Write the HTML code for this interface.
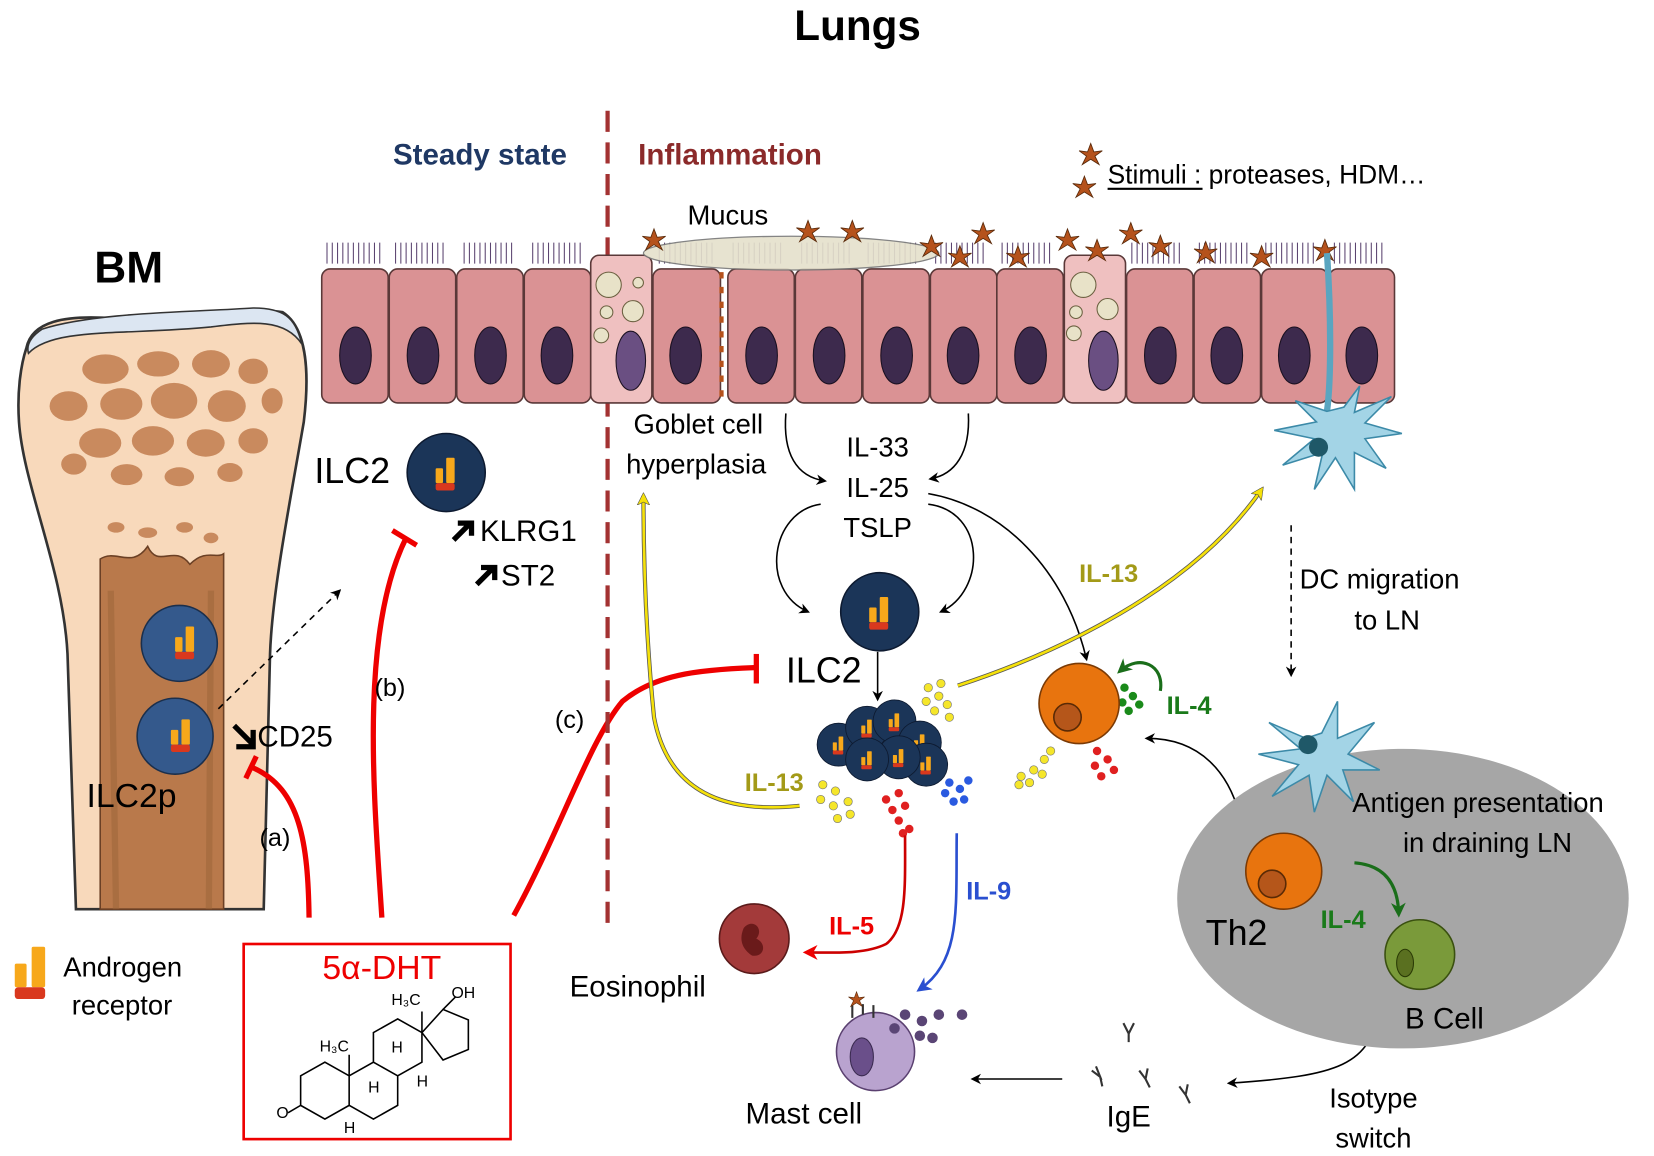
<!DOCTYPE html>
<html><head><meta charset="utf-8"><style>
html,body{margin:0;padding:0;background:#fff;}
svg{display:block;}
text{font-family:"Liberation Sans",sans-serif;}
</style></head><body>
<svg width="1654" height="1156" viewBox="0 0 1568 1096" preserveAspectRatio="none" xmlns="http://www.w3.org/2000/svg">
<defs>
<marker id="ab" markerWidth="10" markerHeight="10" refX="8" refY="5" orient="auto" markerUnits="userSpaceOnUse"><path d="M0,0 L10,5 L0,10 L3,5z" fill="#000"/></marker>
<marker id="ay" markerWidth="12" markerHeight="12" refX="9" refY="6" orient="auto" markerUnits="userSpaceOnUse"><path d="M0,0 L12,6 L0,12 L3,6z" fill="#f5e10a" stroke="#444" stroke-width="0.5"/></marker>
<marker id="ar" markerWidth="14" markerHeight="14" refX="10" refY="7" orient="auto" markerUnits="userSpaceOnUse"><path d="M0,0 L14,7 L0,14 L4,7z" fill="#e00"/></marker>
<marker id="abl" markerWidth="14" markerHeight="14" refX="10" refY="7" orient="auto" markerUnits="userSpaceOnUse"><path d="M0,0 L14,7 L0,14 L4,7z" fill="#2a4fd0"/></marker>
<marker id="ag" markerWidth="14" markerHeight="14" refX="10" refY="7" orient="auto" markerUnits="userSpaceOnUse"><path d="M0,0 L14,7 L0,14 L4,7z" fill="#1a6e1a"/></marker>
<g id="ar_icon"><rect x="-10" y="-4" width="7" height="14" rx="1" fill="#f7a81b"/><rect x="0" y="-14" width="8" height="24" rx="1" fill="#f7a81b"/><rect x="-10" y="10" width="18" height="7" rx="2" fill="#d9381e"/></g>
<g id="cell"><circle r="37" fill="#1b3558" stroke="#0d1a30" stroke-width="1.5"/><use href="#ar_icon"/></g>
<g id="star"><path d="M0,-11 L3,-3 L11,-4 L4,1 L8,9 L0,4 L-8,9 L-4,1 L-11,-4 L-3,-3z" fill="#b5521c" stroke="#5a2a0a" stroke-width="0.8"/></g>
</defs>

<text x="813" y="38" font-size="40" font-weight="bold" text-anchor="middle">Lungs</text>
<text x="122" y="268" font-size="42" font-weight="bold" text-anchor="middle">BM</text>
<text x="455" y="156" font-size="28" font-weight="bold" fill="#1f3864" text-anchor="middle">Steady state</text>
<text x="605" y="156" font-size="28" font-weight="bold" fill="#8b2a2a">Inflammation</text>
<use href="#star" x="1034" y="147"/><use href="#star" x="1028" y="178"/>
<text x="1050" y="174" font-size="25">Stimuli : proteases, HDM…</text>
<line x1="1050" y1="179" x2="1140" y2="179" stroke="#000" stroke-width="2"/>

<!-- bone -->
<path d="M25,330 C30,305 60,298 110,302 C170,306 230,290 268,296 C290,310 294,350 288,400 C276,470 258,560 256,620 L250,862 L72,862 L64,620 C60,540 22,460 18,400 C16,370 20,345 25,330z" fill="#f8d9bb" stroke="#333" stroke-width="2.5"/>
<path d="M27,335 C50,310 120,318 200,310 C240,305 270,302 286,326 C280,300 268,292 240,292 C180,296 90,296 40,312 C28,320 25,328 27,335z" fill="#dce6f2" stroke="#333" stroke-width="1.5"/>
<g fill="#c98a5e">
<ellipse cx="100" cy="350" rx="22" ry="14"/><ellipse cx="150" cy="345" rx="20" ry="12"/><ellipse cx="200" cy="345" rx="18" ry="13"/><ellipse cx="240" cy="352" rx="14" ry="12"/>
<ellipse cx="65" cy="385" rx="18" ry="14"/><ellipse cx="115" cy="383" rx="20" ry="15"/><ellipse cx="165" cy="380" rx="22" ry="17"/><ellipse cx="215" cy="385" rx="18" ry="15"/><ellipse cx="258" cy="380" rx="10" ry="12"/>
<ellipse cx="95" cy="420" rx="20" ry="14"/><ellipse cx="145" cy="418" rx="20" ry="14"/><ellipse cx="195" cy="420" rx="18" ry="13"/><ellipse cx="240" cy="418" rx="14" ry="12"/>
<ellipse cx="70" cy="440" rx="12" ry="10"/><ellipse cx="120" cy="450" rx="15" ry="10"/><ellipse cx="170" cy="452" rx="14" ry="9"/><ellipse cx="218" cy="448" rx="12" ry="9"/>
<ellipse cx="110" cy="500" rx="8" ry="5"/><ellipse cx="140" cy="505" rx="9" ry="5"/><ellipse cx="175" cy="500" rx="8" ry="5"/><ellipse cx="200" cy="510" rx="7" ry="5"/>
</g>
<path d="M95,530 C110,520 125,540 140,518 C150,540 165,515 180,535 C195,520 205,530 212,525 L212,862 L95,862z" fill="#b9794b" stroke="#6b4025" stroke-width="1.5"/>
<path d="M105,560 L110,862 M200,560 L198,862" stroke="#9b6438" stroke-width="6" opacity="0.5"/>
<circle cx="170" cy="610" r="36" fill="#34598c" stroke="#1b2f4c" stroke-width="1.5"/><use href="#ar_icon" x="176" y="608"/>
<circle cx="166" cy="698" r="36" fill="#34598c" stroke="#1b2f4c" stroke-width="1.5"/><use href="#ar_icon" x="172" y="696"/>
<text x="82" y="765" font-size="32">ILC2p</text>
<path d="M207,672 L322,560" stroke="#000" stroke-width="1.5" stroke-dasharray="6,5" marker-end="url(#ab)"/>
<path d="M222,688 L240,706 M240,692 L240,708 L224,708" stroke="#000" stroke-width="5" fill="none"/>
<text x="244" y="708" font-size="28">CD25</text>
<!-- (a) -->
<path d="M293,870 C292,800 285,748 240,728" stroke="#e00" stroke-width="5" fill="none"/>
<line x1="233" y1="738" x2="243" y2="717" stroke="#e00" stroke-width="5"/>
<text x="246" y="802" font-size="24">(a)</text>
<!-- (b) -->
<path d="M362,870 C355,760 340,600 385,510" stroke="#e00" stroke-width="5" fill="none"/>
<line x1="372" y1="503" x2="395" y2="517" stroke="#e00" stroke-width="5"/>
<text x="355" y="660" font-size="24">(b)</text>
<!-- ILC2 steady -->
<text x="298" y="458" font-size="34">ILC2</text>
<use href="#cell" x="423" y="448"/>
<path d="M430,512 L446,496 M434,496 L447,496 L447,508" stroke="#000" stroke-width="5" fill="none"/>
<text x="455" y="513" font-size="28">KLRG1</text>
<path d="M452,554 L468,538 M456,538 L469,538 L469,550" stroke="#000" stroke-width="5" fill="none"/>
<text x="475" y="555" font-size="28">ST2</text>
<!-- (c) -->
<path d="M487,868 C530,790 560,700 590,665 C620,640 660,635 715,633" stroke="#e00" stroke-width="5" fill="none"/>
<line x1="717" y1="620" x2="717" y2="648" stroke="#e00" stroke-width="5"/>
<text x="526" y="690" font-size="24">(c)</text>

<!-- divider -->
<line x1="576" y1="105" x2="576" y2="885" stroke="#a33232" stroke-width="4" stroke-dasharray="20,10"/>

<!-- epithelium -->
<g stroke="#5b4470" stroke-width="1" fill="none">
<path d="M310,250 v-20 M315,250 v-20 M320,250 v-20 M325,250 v-20 M330,250 v-20 M335,250 v-20 M340,250 v-20 M345,250 v-20 M350,250 v-20 M355,250 v-20 M360,250 v-20"/>
<path d="M375,250 v-20 M380,250 v-20 M385,250 v-20 M390,250 v-20 M395,250 v-20 M400,250 v-20 M405,250 v-20 M410,250 v-20 M415,250 v-20 M420,250 v-20"/>
<path d="M440,250 v-20 M445,250 v-20 M450,250 v-20 M455,250 v-20 M460,250 v-20 M465,250 v-20 M470,250 v-20 M475,250 v-20 M480,250 v-20 M485,250 v-20"/>
<path d="M505,250 v-20 M510,250 v-20 M515,250 v-20 M520,250 v-20 M525,250 v-20 M530,250 v-20 M535,250 v-20 M540,250 v-20 M545,250 v-20 M550,250 v-20"/>
<path d="M625,250 v-20 M630,250 v-20 M635,250 v-20 M640,250 v-20 M645,250 v-20 M650,250 v-20 M655,250 v-20 M660,250 v-20 M665,250 v-20 M670,250 v-20 M675,250 v-20"/>
<path d="M695,250 v-20 M700,250 v-20 M705,250 v-20 M710,250 v-20 M715,250 v-20 M720,250 v-20 M725,250 v-20 M730,250 v-20 M735,250 v-20 M740,250 v-20"/>
<path d="M760,250 v-20 M765,250 v-20 M770,250 v-20 M775,250 v-20 M780,250 v-20 M785,250 v-20 M790,250 v-20 M795,250 v-20 M800,250 v-20 M805,250 v-20"/>
<path d="M823,250 v-20 M828,250 v-20 M833,250 v-20 M838,250 v-20 M843,250 v-20 M848,250 v-20 M853,250 v-20 M858,250 v-20 M863,250 v-20 M868,250 v-20"/>
<path d="M887,250 v-20 M892,250 v-20 M897,250 v-20 M902,250 v-20 M907,250 v-20 M912,250 v-20 M917,250 v-20 M922,250 v-20 M927,250 v-20 M932,250 v-20"/>
<path d="M950,250 v-20 M955,250 v-20 M960,250 v-20 M965,250 v-20 M970,250 v-20 M975,250 v-20 M980,250 v-20 M985,250 v-20 M990,250 v-20 M995,250 v-20"/>
<path d="M1073,250 v-20 M1078,250 v-20 M1083,250 v-20 M1088,250 v-20 M1093,250 v-20 M1098,250 v-20 M1103,250 v-20 M1108,250 v-20 M1113,250 v-20 M1118,250 v-20"/>
<path d="M1137,250 v-20 M1142,250 v-20 M1147,250 v-20 M1152,250 v-20 M1157,250 v-20 M1162,250 v-20 M1167,250 v-20 M1172,250 v-20 M1177,250 v-20 M1182,250 v-20"/>
<path d="M1200,250 v-20 M1205,250 v-20 M1210,250 v-20 M1215,250 v-20 M1220,250 v-20 M1225,250 v-20 M1230,250 v-20 M1235,250 v-20 M1240,250 v-20 M1245,250 v-20"/>
<path d="M1265,250 v-20 M1270,250 v-20 M1275,250 v-20 M1280,250 v-20 M1285,250 v-20 M1290,250 v-20 M1295,250 v-20 M1300,250 v-20 M1305,250 v-20 M1310,250 v-20"/>
</g>
<g stroke="#5a3838" stroke-width="1.5" fill="#da9294">
<rect x="305" y="255" width="63" height="127" rx="8"/>
<rect x="369" y="255" width="63" height="127" rx="8"/>
<rect x="433" y="255" width="63" height="127" rx="8"/>
<rect x="497" y="255" width="63" height="127" rx="8"/>
<rect x="560" y="242" width="58" height="140" rx="8" fill="#efc0c0"/>
<rect x="619" y="255" width="64" height="127" rx="8"/>
<rect x="690" y="255" width="63" height="127" rx="8"/>
<rect x="754" y="255" width="63" height="127" rx="8"/>
<rect x="818" y="255" width="63" height="127" rx="8"/>
<rect x="882" y="255" width="63" height="127" rx="8"/>
<rect x="945" y="255" width="63" height="127" rx="8"/>
<rect x="1009" y="242" width="58" height="140" rx="8" fill="#efc0c0"/>
<rect x="1068" y="255" width="63" height="127" rx="8"/>
<rect x="1132" y="255" width="63" height="127" rx="8"/>
<rect x="1196" y="255" width="63" height="127" rx="8"/>
<rect x="1260" y="255" width="62" height="127" rx="8"/>
</g>
<g fill="#3d2a4d" stroke="#1a1020" stroke-width="1">
<ellipse cx="337" cy="337" rx="15" ry="27"/><ellipse cx="401" cy="337" rx="15" ry="27"/><ellipse cx="465" cy="337" rx="15" ry="27"/><ellipse cx="528" cy="337" rx="15" ry="27"/>
<ellipse cx="650" cy="337" rx="15" ry="27"/><ellipse cx="722" cy="337" rx="15" ry="27"/><ellipse cx="786" cy="337" rx="15" ry="27"/><ellipse cx="850" cy="337" rx="15" ry="27"/><ellipse cx="913" cy="337" rx="15" ry="27"/><ellipse cx="977" cy="337" rx="15" ry="27"/>
<ellipse cx="1100" cy="337" rx="15" ry="27"/><ellipse cx="1163" cy="337" rx="15" ry="27"/><ellipse cx="1227" cy="337" rx="15" ry="27"/><ellipse cx="1291" cy="337" rx="15" ry="27"/>
<ellipse cx="598" cy="342" rx="14" ry="28" fill="#6a4f82"/><ellipse cx="1046" cy="342" rx="14" ry="28" fill="#6a4f82"/>
</g>
<g fill="#e8e2c8" stroke="#6b6040" stroke-width="1">
<circle cx="577" cy="270" r="12"/><circle cx="600" cy="295" r="10"/><circle cx="575" cy="296" r="6"/><circle cx="570" cy="318" r="7"/><circle cx="605" cy="268" r="5"/>
<circle cx="1027" cy="270" r="12"/><circle cx="1050" cy="293" r="10"/><circle cx="1020" cy="296" r="6"/><circle cx="1018" cy="316" r="7"/>
</g>
<ellipse cx="750" cy="240" rx="140" ry="16" fill="#e5e1cc" stroke="#777" stroke-width="1.2" opacity="0.9"/>
<text x="690" y="213" font-size="26" text-anchor="middle">Mucus</text>
<path d="M684,258 v120" stroke="#b5521c" stroke-width="4" stroke-dasharray="6,8"/>
<use href="#star" x="620" y="228"/><use href="#star" x="766" y="220"/><use href="#star" x="808" y="220"/><use href="#star" x="883" y="234"/><use href="#star" x="932" y="222"/><use href="#star" x="910" y="244"/><use href="#star" x="965" y="244"/><use href="#star" x="1012" y="228"/><use href="#star" x="1040" y="238"/><use href="#star" x="1072" y="222"/><use href="#star" x="1100" y="234"/><use href="#star" x="1143" y="240"/><use href="#star" x="1196" y="244"/><use href="#star" x="1256" y="238"/>
<!-- DC in epithelium -->
<path d="M1258,240 C1262,300 1262,360 1258,390" stroke="#5aa5c0" stroke-width="6" fill="none"/>
<path d="M1258,390 l-30,-10 l20,20 l-40,8 l38,8 l-30,25 l38,-12 l-8,35 l20,-30 l18,30 l0,-35 l30,15 l-20,-28 l35,-5 l-35,-10 l25,-25 l-35,15 l5,-25 l-15,20z" fill="#a3d4e6" stroke="#3c8aa8" stroke-width="1.5"/>
<circle cx="1250" cy="424" r="9" fill="#1f5868"/>

<text x="662" y="411" font-size="26" text-anchor="middle">Goblet cell</text>
<text x="660" y="449" font-size="26" text-anchor="middle">hyperplasia</text>
<text x="832" y="433" font-size="26" text-anchor="middle">IL-33</text>
<text x="832" y="471" font-size="26" text-anchor="middle">IL-25</text>
<text x="832" y="509" font-size="26" text-anchor="middle">TSLP</text>
<g stroke="#000" stroke-width="1.5" fill="none">
<path d="M745,392 C742,430 755,452 782,456" marker-end="url(#ab)"/>
<path d="M918,392 C920,430 905,450 882,454" marker-end="url(#ab)"/>
<path d="M778,478 C730,485 720,560 766,580" marker-end="url(#ab)"/>
<path d="M880,478 C935,485 935,560 892,580" marker-end="url(#ab)"/>
<path d="M880,468 C950,480 1010,540 1030,625" marker-end="url(#ab)"/>
<path d="M832,618 L832,663" marker-end="url(#ab)"/>
<path d="M1224,498 L1224,640" stroke-dasharray="6,5" marker-end="url(#ab)"/>
<path d="M1175,772 C1165,735 1140,700 1087,700" marker-end="url(#ab)"/>
<path d="M1307,955 C1300,1010 1270,1020 1165,1027" marker-end="url(#ab)"/>
<path d="M1007,1023 L922,1023" marker-end="url(#ab)"/>
</g>
<use href="#cell" x="834" y="580"/>
<text x="745" y="647" font-size="34">ILC2</text>
<!-- cluster -->
<g>
<use href="#cell" transform="translate(795,706) scale(0.55)"/><use href="#cell" transform="translate(822,690) scale(0.55)"/><use href="#cell" transform="translate(848,684) scale(0.55)"/><use href="#cell" transform="translate(872,704) scale(0.55)"/><use href="#cell" transform="translate(878,725) scale(0.55)"/><use href="#cell" transform="translate(852,718) scale(0.55)"/><use href="#cell" transform="translate(822,720) scale(0.55)"/>
</g>
<!-- dots -->
<g fill="#f5e62a" stroke="#777" stroke-width="0.6">
<circle cx="880" cy="652" r="4"/><circle cx="890" cy="660" r="4"/><circle cx="878" cy="665" r="4"/><circle cx="898" cy="668" r="4"/><circle cx="886" cy="674" r="4"/><circle cx="900" cy="680" r="4"/><circle cx="892" cy="648" r="4"/>
<circle cx="780" cy="744" r="4"/><circle cx="792" cy="750" r="4"/><circle cx="778" cy="758" r="4"/><circle cx="790" cy="764" r="4"/><circle cx="804" cy="760" r="4"/><circle cx="806" cy="772" r="4"/><circle cx="794" cy="776" r="4"/>
<circle cx="968" cy="736" r="4"/><circle cx="980" cy="730" r="4"/><circle cx="990" cy="720" r="4"/><circle cx="976" cy="742" r="4"/><circle cx="988" cy="734" r="4"/><circle cx="996" cy="712" r="4"/><circle cx="966" cy="744" r="4"/>
</g>
<g fill="#e02020"><circle cx="840" cy="758" r="4"/><circle cx="852" cy="752" r="4"/><circle cx="846" cy="768" r="4"/><circle cx="858" cy="764" r="4"/><circle cx="852" cy="778" r="4"/><circle cx="862" cy="786" r="4"/><circle cx="856" cy="790" r="4"/>
<circle cx="1040" cy="712" r="4"/><circle cx="1050" cy="720" r="4"/><circle cx="1038" cy="726" r="4"/><circle cx="1056" cy="730" r="4"/><circle cx="1044" cy="736" r="4"/></g>
<g fill="#2a5ae0"><circle cx="900" cy="742" r="4"/><circle cx="910" cy="748" r="4"/><circle cx="896" cy="752" r="4"/><circle cx="914" cy="758" r="4"/><circle cx="904" cy="760" r="4"/><circle cx="918" cy="740" r="4"/></g>
<g fill="#1a8a1a"><circle cx="1066" cy="652" r="4"/><circle cx="1074" cy="660" r="4"/><circle cx="1064" cy="666" r="4"/><circle cx="1080" cy="668" r="4"/><circle cx="1070" cy="674" r="4"/>
<circle cx="1262" cy="806" r="4"/><circle cx="1272" cy="812" r="4"/><circle cx="1264" cy="820" r="4"/><circle cx="1276" cy="824" r="4"/><circle cx="1268" cy="832" r="4"/></g>
<!-- yellow arrows -->
<path d="M908,650 C1000,620 1130,560 1196,464" stroke="#555" stroke-width="4" fill="none"/>
<path d="M908,650 C1000,620 1130,560 1196,464" stroke="#f5e10a" stroke-width="2.5" fill="none" marker-end="url(#ay)"/>
<path d="M758,764 C700,770 635,760 620,680 C612,600 610,530 610,470" stroke="#555" stroke-width="4" fill="none"/>
<path d="M758,764 C700,770 635,760 620,680 C612,600 610,530 610,470" stroke="#f5e10a" stroke-width="2.5" fill="none" marker-end="url(#ay)"/>
<text x="1023" y="552" font-size="24" font-weight="bold" fill="#a39a18">IL-13</text>
<text x="706" y="750" font-size="24" font-weight="bold" fill="#a39a18">IL-13</text>
<!-- Th2 in lung -->
<circle cx="1023" cy="667" r="38" fill="#e8740e" stroke="#7a3a05" stroke-width="1.5"/>
<circle cx="1012" cy="680" r="13" fill="#b5561a" stroke="#5a2a05" stroke-width="1.5"/>
<path d="M1100,655 C1104,630 1080,620 1062,636" stroke="#1a6e1a" stroke-width="3" fill="none" marker-end="url(#ag)"/>
<text x="1106" y="677" font-size="24" font-weight="bold" fill="#1a7a1a">IL-4</text>
<!-- IL-5, IL-9 -->
<path d="M858,792 C858,840 860,880 840,895 C820,905 790,903 765,903" stroke="#c00" stroke-width="2.5" fill="none" marker-end="url(#ar)"/>
<text x="786" y="886" font-size="24" font-weight="bold" fill="#e00">IL-5</text>
<path d="M907,790 C906,860 912,910 872,938" stroke="#2a4fd0" stroke-width="2.5" fill="none" marker-end="url(#abl)"/>
<text x="916" y="853" font-size="24" font-weight="bold" fill="#2a4fd0">IL-9</text>
<!-- Eosinophil -->
<circle cx="715" cy="890" r="33" fill="#a33a3a" stroke="#5a1a1a" stroke-width="1.5"/>
<path d="M705,880 c8,-10 20,0 12,10 c10,4 8,18 -4,16 c-6,-4 -14,-12 -8,-26z" fill="#6a1a1a"/>
<text x="540" y="945" font-size="28">Eosinophil</text>
<!-- Mast cell -->
<circle cx="830" cy="997" r="37" fill="#b9a3cf" stroke="#5a4070" stroke-width="1.5"/>
<ellipse cx="817" cy="1002" rx="11" ry="18" fill="#6a4f8a" stroke="#3a2a50"/>
<g fill="#5a4575"><circle cx="858" cy="962" r="5"/><circle cx="874" cy="968" r="5"/><circle cx="890" cy="962" r="5"/><circle cx="912" cy="962" r="5"/><circle cx="872" cy="982" r="5"/><circle cx="884" cy="984" r="5"/><circle cx="848" cy="975" r="5"/></g>
<path d="M808,965 v-12 M818,962 v-10 M828,965 v-12" stroke="#333" stroke-width="2"/>
<use href="#star" transform="translate(812,948) scale(0.7)"/>
<text x="762" y="1065" font-size="28" text-anchor="middle">Mast cell</text>
<!-- IgE -->
<g stroke="#333" stroke-width="2" fill="none">
<path d="M1065,970 l5,10 l5,-10 M1070,980 l0,8"/><path d="M1035,1015 l8,6 l-4,-10 M1043,1021 l2,9"/><path d="M1080,1015 l6,8 l2,-10 M1086,1023 l4,8"/><path d="M1118,1030 l6,8 l2,-10 M1124,1038 l4,8"/>
</g>
<text x="1070" y="1068" font-size="28" text-anchor="middle">IgE</text>
<!-- LN -->
<ellipse cx="1330" cy="852" rx="214" ry="142" fill="#a6a6a6"/>
<path d="M1238,700 l-35,-15 l30,25 l-40,5 l38,10 l-25,30 l35,-20 l5,35 l12,-35 l25,25 l-10,-30 l35,0 l-30,-15 l25,-30 l-35,15 l0,-35 l-15,30z" fill="#a3d4e6" stroke="#3c8aa8" stroke-width="1.5"/>
<circle cx="1240" cy="706" r="9" fill="#1f5868"/>
<text x="1232" y="558" font-size="26">DC migration</text>
<text x="1284" y="597" font-size="26">to LN</text>
<text x="1282" y="770" font-size="26">Antigen presentation</text>
<text x="1330" y="808" font-size="26">in draining LN</text>
<circle cx="1217" cy="826" r="36" fill="#e8740e" stroke="#7a3a05" stroke-width="1.5"/>
<circle cx="1206" cy="838" r="13" fill="#b5561a" stroke="#5a2a05" stroke-width="1.5"/>
<text x="1143" y="896" font-size="34">Th2</text>
<path d="M1284,818 C1310,820 1325,835 1326,866" stroke="#1a6e1a" stroke-width="3" fill="none" marker-end="url(#ag)"/>
<text x="1252" y="880" font-size="24" font-weight="bold" fill="#1a7a1a">IL-4</text>
<circle cx="1346" cy="905" r="33" fill="#7a9a3a" stroke="#3a5010" stroke-width="1.5"/>
<ellipse cx="1332" cy="913" rx="8" ry="13" fill="#5a7020" stroke="#2a3a05"/>
<text x="1332" y="975" font-size="28">B Cell</text>
<text x="1302" y="1050" font-size="26" text-anchor="middle">Isotype</text>
<text x="1302" y="1088" font-size="26" text-anchor="middle">switch</text>
<!-- legend + DHT -->
<use href="#ar_icon" transform="translate(30,920) scale(1.6)"/>
<text x="60" y="926" font-size="26">Androgen</text>
<text x="68" y="962" font-size="26">receptor</text>
<rect x="231" y="895" width="253" height="185" fill="none" stroke="#e00" stroke-width="2.5"/>
<text x="362" y="928" font-size="32" fill="#e00" text-anchor="middle">5α-DHT</text>
<g stroke="#000" stroke-width="1.5" fill="none">
<path d="M285,1048 l0,-28 l23,-13 l23,13 l0,28 l-23,13z"/>
<path d="M331,1020 l23,-13 l23,13 l0,28 l-23,13 l-23,-13"/>
<path d="M354,1007 l0,-28 l23,-13 l23,13 l0,28 l-23,13"/>
<path d="M400,979 l20,-22 l24,10 l0,28 l-24,10z"/>
<path d="M285,1048 l-12,7"/><path d="M331,1020 l0,-20"/><path d="M400,979 l0,-20"/><path d="M420,957 l12,-12"/>
</g>
<g font-size="15"><text x="262" y="1060">O</text><text x="303" y="997">H₃C</text><text x="371" y="953">H₃C</text><text x="428" y="946">OH</text><text x="371" y="998">H</text><text x="349" y="1036">H</text><text x="395" y="1030">H</text><text x="326" y="1074">H</text></g>
</svg>
</body></html>
